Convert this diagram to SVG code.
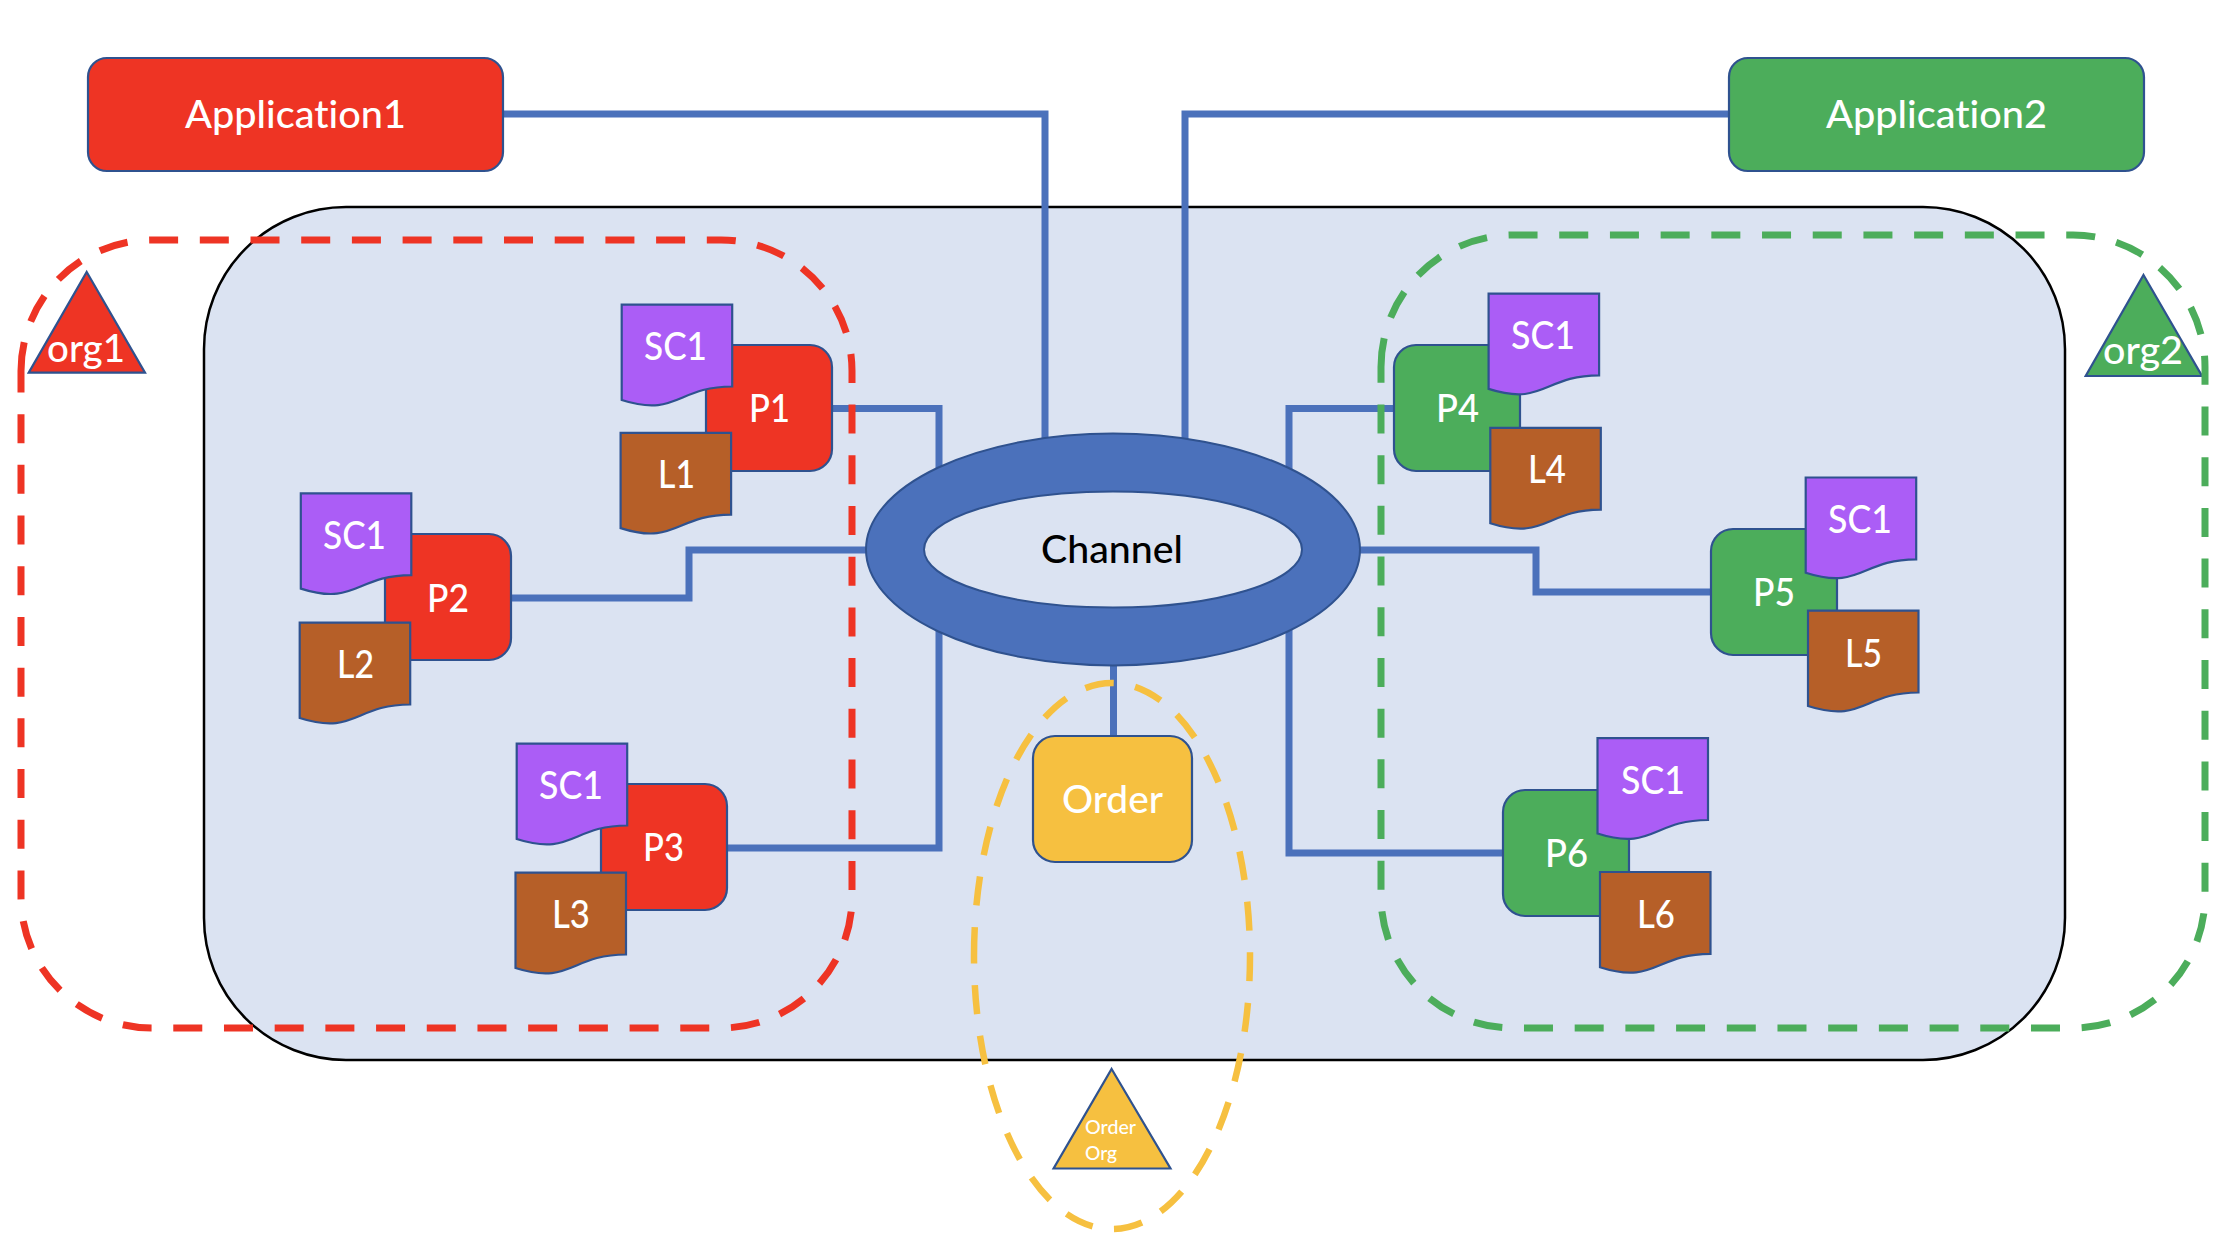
<svg xmlns="http://www.w3.org/2000/svg" width="2230" height="1254" viewBox="0 0 2230 1254">
<style>
text{font-family:Lato,"Liberation Sans",sans-serif;font-size:39px;font-weight:500;font-variant-ligatures:none;fill:#fff}
.s{stroke:#2F528F;stroke-width:2.2}
.red{fill:#EE3424}.green{fill:#4CAD5B}.gold{fill:#F6C040}.sc{fill:#AB5DF6}.led{fill:#B65F28}
.conn{fill:none;stroke:#4B71BB;stroke-width:7}
.dash{fill:none;stroke-width:7;stroke-dasharray:29 21.7}
</style>
<defs>
<path id="doc" d="M0 0H110.5V81.8C55.25 81.8 55.25 113 0 95.3Z"/>
</defs>
<g id="channel-panel"><rect x="204" y="207" width="1861" height="853" rx="142" ry="142" fill="#DBE3F2" stroke="#000" stroke-width="2.5"/></g>
<g id="connectors">
<path class="conn" d="M503 114H1045V445"/>
<path class="conn" d="M1729 114H1185V445"/>
<path class="conn" d="M832 408.5H939V480"/>
<path class="conn" d="M511 598H689V550H870"/>
<path class="conn" d="M727 848H939V625"/>
<path class="conn" d="M1394 408.5H1289V480"/>
<path class="conn" d="M1355 550H1536V592H1711"/>
<path class="conn" d="M1289 625V853H1503"/>
<path class="conn" d="M1113.5 660V736"/>
</g>
<g id="channel">
<ellipse cx="1113" cy="549.5" rx="247" ry="116" fill="#4B71BB" stroke="#2F528F" stroke-width="2"/>
<ellipse cx="1113" cy="549.5" rx="189" ry="58" fill="#DBE3F2" stroke="#2F528F" stroke-width="2"/>
<text x="1041" y="563" textLength="142" lengthAdjust="spacingAndGlyphs" style="fill:#000">Channel</text>
</g>
<g id="app1"><rect class="red s" x="88" y="58" width="415" height="113" rx="19"/><text x="185" y="128" textLength="221" lengthAdjust="spacingAndGlyphs">Application1</text></g>
<g id="app2"><rect class="green s" x="1729" y="58" width="415" height="113" rx="19"/><text x="1826" y="128" textLength="221" lengthAdjust="spacingAndGlyphs">Application2</text></g>
<g id="p1"><rect class="red s" x="706" y="345" width="126" height="126" rx="22"/><text x="749" y="422" textLength="41" lengthAdjust="spacingAndGlyphs">P1</text></g>
<g id="sc1-p1"><use href="#doc" class="sc s" x="621.7" y="304.7"/><text x="644" y="360" textLength="63" lengthAdjust="spacingAndGlyphs">SC1</text></g>
<g id="l1"><use href="#doc" class="led s" x="620.6" y="432.8"/><text x="658" y="488" textLength="37" lengthAdjust="spacingAndGlyphs">L1</text></g>
<g id="p2"><rect class="red s" x="385" y="534" width="126" height="126" rx="22"/><text x="427" y="612" textLength="42" lengthAdjust="spacingAndGlyphs">P2</text></g>
<g id="sc1-p2"><use href="#doc" class="sc s" x="300.8" y="493.3"/><text x="323" y="549" textLength="63" lengthAdjust="spacingAndGlyphs">SC1</text></g>
<g id="l2"><use href="#doc" class="led s" x="299.7" y="622.7"/><text x="337" y="678" textLength="37" lengthAdjust="spacingAndGlyphs">L2</text></g>
<g id="p3"><rect class="red s" x="601" y="784" width="126" height="126" rx="22"/><text x="643" y="861" textLength="41" lengthAdjust="spacingAndGlyphs">P3</text></g>
<g id="sc1-p3"><use href="#doc" class="sc s" x="516.7" y="743.7"/><text x="539" y="799" textLength="64" lengthAdjust="spacingAndGlyphs">SC1</text></g>
<g id="l3"><use href="#doc" class="led s" x="515.5" y="872.7"/><text x="552" y="928" textLength="38" lengthAdjust="spacingAndGlyphs">L3</text></g>
<g id="p4"><rect class="green s" x="1394" y="345" width="126" height="126" rx="22"/><text x="1436" y="422" textLength="43" lengthAdjust="spacingAndGlyphs">P4</text></g>
<g id="sc1-p4"><use href="#doc" class="sc s" x="1488.6" y="293.6"/><text x="1511" y="349" textLength="64" lengthAdjust="spacingAndGlyphs">SC1</text></g>
<g id="l4"><use href="#doc" class="led s" x="1490.3" y="427.9"/><text x="1528" y="483" textLength="38" lengthAdjust="spacingAndGlyphs">L4</text></g>
<g id="p5"><rect class="green s" x="1711" y="529" width="126" height="126" rx="22"/><text x="1753" y="606" textLength="42" lengthAdjust="spacingAndGlyphs">P5</text></g>
<g id="sc1-p5"><use href="#doc" class="sc s" x="1805.7" y="477.5"/><text x="1828" y="533" textLength="64" lengthAdjust="spacingAndGlyphs">SC1</text></g>
<g id="l5"><use href="#doc" class="led s" x="1808" y="610.7"/><text x="1845" y="667" textLength="37" lengthAdjust="spacingAndGlyphs">L5</text></g>
<g id="p6"><rect class="green s" x="1503" y="790" width="126" height="126" rx="22"/><text x="1545" y="867" textLength="43" lengthAdjust="spacingAndGlyphs">P6</text></g>
<g id="sc1-p6"><use href="#doc" class="sc s" x="1597.5" y="738.2"/><text x="1621" y="794" textLength="64" lengthAdjust="spacingAndGlyphs">SC1</text></g>
<g id="l6"><use href="#doc" class="led s" x="1600" y="872"/><text x="1637" y="928" textLength="38" lengthAdjust="spacingAndGlyphs">L6</text></g>
<g id="order"><rect class="gold s" x="1033" y="736" width="159" height="126" rx="22"/><text x="1062" y="813" textLength="101" lengthAdjust="spacingAndGlyphs">Order</text></g>
<g id="org1">
<path class="red s" d="M86.7 272L145 372.7H28.7Z"/>
<text x="47" y="362" textLength="78" lengthAdjust="spacingAndGlyphs">org1</text>
<path class="dash" d="M21 371A131 131 0 0 1 152 240H721A131 131 0 0 1 852 371V897A131 131 0 0 1 721 1028H152A131 131 0 0 1 21 897Z" style="stroke:#EE3424"/>
</g>
<g id="org2">
<path class="green s" d="M2143.5 275L2202 376H2085.7Z"/>
<text x="2103" y="364" textLength="80" lengthAdjust="spacingAndGlyphs">org2</text>
<path class="dash" d="M1381 367A132 132 0 0 1 1513 235H2073A132 132 0 0 1 2205 367V896A132 132 0 0 1 2073 1028H1513A132 132 0 0 1 1381 896Z" style="stroke:#4CAD5B"/>
</g>
<g id="order-org">
<path class="gold s" d="M1111.6 1069L1170.5 1168.5H1053.6Z"/>
<text x="1085" y="1134" textLength="51" lengthAdjust="spacingAndGlyphs" style="font-size:20px">Order</text>
<text x="1085" y="1160" textLength="32" lengthAdjust="spacingAndGlyphs" style="font-size:20px">Org</text>
<path class="dash" d="M974 956A138 273 0 0 1 1250 956A138 273 0 0 1 974 956Z" style="stroke:#F6C040;stroke-width:6.5"/>
</g>
</svg>
